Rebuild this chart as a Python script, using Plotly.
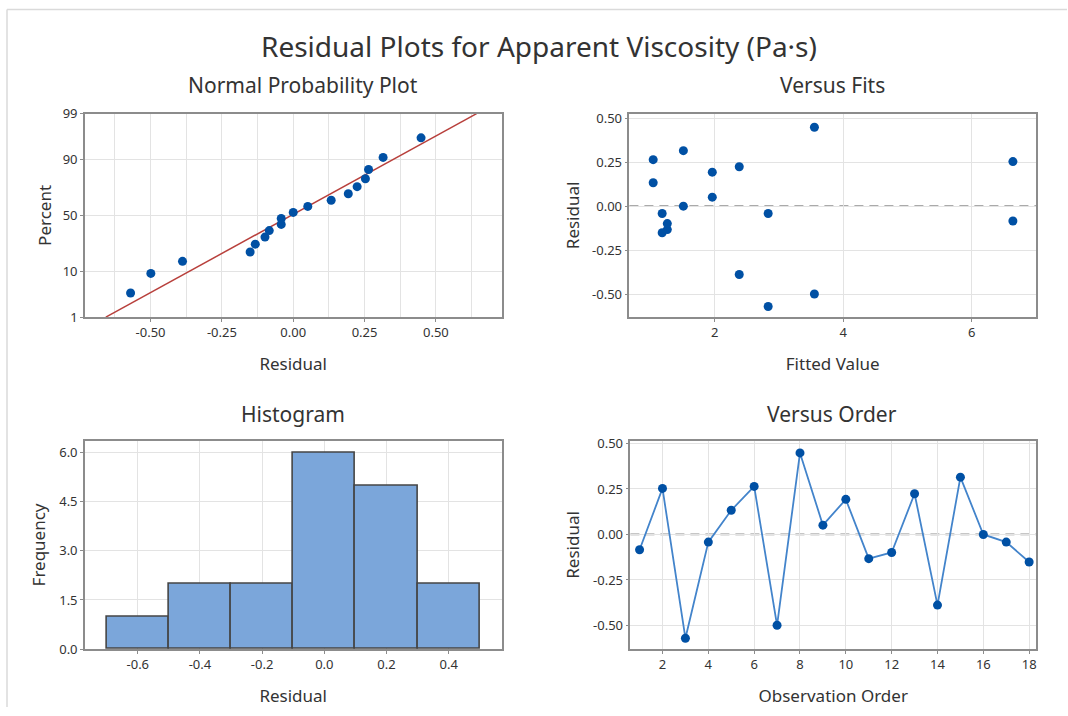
import plotly.graph_objects as go
from statistics import NormalDist, mean, stdev

# Residual analysis data (18 observations, in run order)
observation = list(range(1, 19))
residuals = [-0.084, 0.253, -0.570, -0.042, 0.133, 0.264, -0.499, 0.448, 0.051,
             0.193, -0.133, -0.099, 0.224, -0.388, 0.315, 0.000, -0.042, -0.151]
fitted = [6.64, 6.64, 2.83, 2.83, 1.04, 1.04, 3.55, 3.55, 1.96,
          1.96, 1.26, 1.26, 2.38, 2.38, 1.51, 1.51, 1.18, 1.18]

# Tick labels
npp_pct_ticks = [1, 10, 50, 90, 99]
npp_x_ticks = [-0.50, -0.25, 0.00, 0.25, 0.50]
res_ticks = [-0.50, -0.25, 0.00, 0.25, 0.50]
fit_ticks = [2, 4, 6]
hist_x_ticks = [-0.6, -0.4, -0.2, 0.0, 0.2, 0.4]
hist_y_ticks = [0.0, 1.5, 3.0, 4.5, 6.0]
order_ticks = [2, 4, 6, 8, 10, 12, 14, 16, 18]

W, H = 1068, 716
FONT = "Noto Sans"
TXT = "#333333"
BLUE = "#0050A4"
FRAME = "#8C8C8C"
GRID = "#E3E3E3"

nd = NormalDist()
n = len(residuals)
sorted_res = sorted(residuals)
# Benard median ranks -> normal scores
z_scores = [nd.inv_cdf((i + 1 - 0.3) / (n + 0.4)) for i in range(n)]
mu, sd = mean(residuals), stdev(residuals)
z_lo, z_hi = nd.inv_cdf(0.01), nd.inv_cdf(0.99)


def lbl(v, d):
    return f"{v:.{d}f}"


def py(t):
    # vertical page position (px from top) -> layout px, allowing for page offset
    return (t - 8) / 0.9777


def xdom(l, r):
    return [l / W, r / W]


def ydom(t, b):
    return [1 - py(b) / H, 1 - py(t) / H]


fig = go.Figure()

# Normal probability plot
fig.add_trace(go.Scatter(x=[mu + sd * z_lo, mu + sd * z_hi], y=[z_lo, z_hi], mode="lines",
                         line=dict(color="#B8403C", width=1.5), xaxis="x", yaxis="y",
                         hoverinfo="skip"))
fig.add_trace(go.Scatter(x=sorted_res, y=z_scores, mode="markers",
                         marker=dict(color=BLUE, size=9), xaxis="x", yaxis="y"))

# Versus fits
fig.add_trace(go.Scatter(x=fitted, y=residuals, mode="markers",
                         marker=dict(color=BLUE, size=9), xaxis="x2", yaxis="y2"))

# Histogram
fig.add_trace(go.Histogram(x=residuals, xbins=dict(start=-0.7, end=0.5, size=0.2),
                           marker=dict(color="#7BA6DA", line=dict(color="#454545", width=1.6)),
                           xaxis="x3", yaxis="y3"))

# Versus order
fig.add_trace(go.Scatter(x=observation, y=residuals, mode="lines+markers",
                         line=dict(color="#4384CB", width=1.8),
                         marker=dict(color=BLUE, size=9), xaxis="x4", yaxis="y4"))

tickfont = dict(family=FONT, size=13, color=TXT)
titlefont = dict(family=FONT, size=17, color=TXT)


def axis(domain, rng, vals, texts, title, anchor, standoff, minor=None):
    a = dict(domain=domain, range=rng, tickmode="array", tickvals=vals, ticktext=texts,
             showgrid=True, gridcolor=GRID, gridwidth=1, zeroline=False,
             showline=True, linecolor=FRAME, linewidth=1.5, mirror=True,
             ticks="outside", ticklen=3, tickcolor=FRAME, tickfont=tickfont,
             anchor=anchor, title=dict(text=title, font=titlefont, standoff=standoff))
    if minor:
        a["minor"] = minor
    return a


npp_y_vals = [nd.inv_cdf(p / 100) for p in npp_pct_ticks]

fig.update_layout(
    width=W, height=H, margin=dict(l=0, r=0, t=0, b=0, pad=0),
    paper_bgcolor="white", plot_bgcolor="white", showlegend=False,
    bargap=0,
    xaxis=axis(xdom(85, 502), [-0.73, 0.73], npp_x_ticks, [lbl(v, 2) for v in npp_x_ticks],
               "Residual", "y", 18,
               minor=dict(dtick=0.125, tick0=0, showgrid=True, gridcolor=GRID, ticks="")),
    yaxis=axis(ydom(113, 317), [z_lo, z_hi], npp_y_vals, [str(p) for p in npp_pct_ticks],
               "Percent", "x", 7),
    xaxis2=axis(xdom(630, 1037), [0.67, 7.0], fit_ticks, [str(v) for v in fit_ticks],
                "Fitted Value", "y2", 18),
    yaxis2=axis(ydom(113, 317), [-0.63, 0.525], res_ticks, [lbl(v, 2) for v in res_ticks],
                "Residual", "x2", 8),
    xaxis3=axis(xdom(85, 502), [-0.77, 0.57], hist_x_ticks, [lbl(v, 1) for v in hist_x_ticks],
                "Residual", "y3", 18),
    yaxis3=axis(ydom(441, 650), [0, 6.36], hist_y_ticks, [lbl(v, 1) for v in hist_y_ticks],
                "Frequency", "x3", 9),
    xaxis4=axis(xdom(631, 1037), [0.6, 18.3], order_ticks, [str(v) for v in order_ticks],
                "Observation Order", "y4", 18),
    yaxis4=axis(ydom(441, 650), [-0.63, 0.515], res_ticks, [lbl(v, 2) for v in res_ticks],
                "Residual", "x4", 9),
)

# Zero reference lines
for xa, ya in (("x2", "y2"), ("x4", "y4")):
    fig.add_shape(type="line", xref=f"{xa} domain", yref=ya, x0=0, x1=1, y0=0, y1=0,
                  line=dict(color="#8E8E8E", width=1.8, dash="9px,6px"), layer="below")

# Outer frame edges
top = 1 - py(8.5) / H
fig.add_shape(type="line", xref="paper", yref="paper", x0=7 / W, x1=1, y0=top, y1=top,
              line=dict(color="#DADADA", width=1.5))
fig.add_shape(type="line", xref="paper", yref="paper", x0=7 / W, x1=7 / W, y0=0, y1=top,
              line=dict(color="#DADADA", width=1.5))

# Titles
fig.add_annotation(text="Residual Plots for Apparent Viscosity (Pa·s)", x=540 / W, y=1 - py(45) / H,
                   xref="paper", yref="paper", xanchor="center", yanchor="middle", showarrow=False,
                   font=dict(family=FONT, size=28, color=TXT))
subtitles = [("Normal Probability Plot", 303, 84), ("Versus Fits", 833, 84),
             ("Histogram", 293, 414), ("Versus Order", 833, 414)]
for text, cx, cy in subtitles:
    fig.add_annotation(text=text, x=cx / W, y=1 - py(cy) / H, xref="paper", yref="paper",
                       xanchor="center", yanchor="middle", showarrow=False,
                       font=dict(family=FONT, size=21, color=TXT))

fig.write_html("out.html")
